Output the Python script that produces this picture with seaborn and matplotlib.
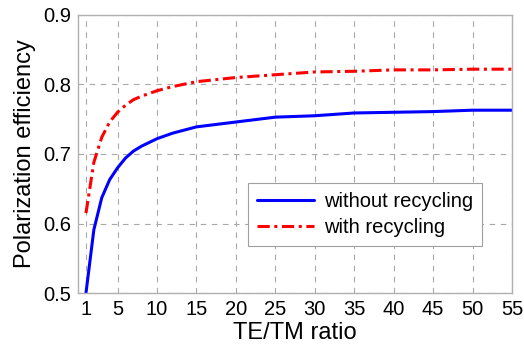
import numpy as np
import pandas as pd
import matplotlib
matplotlib.use("Agg")
import matplotlib.pyplot as plt
import seaborn as sns

# values
ratio = [1, 2, 3, 4, 5, 6, 7, 8, 10, 12, 15, 20, 25, 30, 35, 40, 45, 50, 55]
without_recycling = [0.500, 0.591, 0.637, 0.663, 0.680, 0.694, 0.704, 0.711, 0.722,
                     0.730, 0.739, 0.746, 0.753, 0.755, 0.759, 0.760, 0.761, 0.763, 0.763]
with_recycling = [0.615, 0.688, 0.724, 0.746, 0.760, 0.770, 0.778, 0.783, 0.791,
                  0.797, 0.804, 0.810, 0.814, 0.818, 0.819, 0.821, 0.821, 0.822, 0.822]
series_names = ["without recycling", "with recycling"]
x_ticks = [1, 5, 10, 15, 20, 25, 30, 35, 40, 45, 50, 55]
y_ticks = [0.5, 0.6, 0.7, 0.8, 0.9]

df = pd.DataFrame({
    "ratio": ratio * 2,
    "eff": without_recycling + with_recycling,
    "series": [series_names[0]] * len(ratio) + [series_names[1]] * len(ratio),
})

sns.set_style("white")
plt.rcParams['font.family'] = ['Liberation Sans', 'DejaVu Sans']
plt.rcParams['text.color'] = 'black'
plt.rcParams['axes.labelcolor'] = 'black'
plt.rcParams['xtick.color'] = 'black'
plt.rcParams['ytick.color'] = 'black'

fig, ax = plt.subplots(figsize=(5.24, 3.48), dpi=100)
fig.subplots_adjust(left=0.149, right=0.977, top=0.957, bottom=0.158)

sns.lineplot(data=df, x="ratio", y="eff", hue="series", style="series",
             palette={series_names[0]: "#0000ff", series_names[1]: "#ff0000"},
             dashes={series_names[0]: "", series_names[1]: (4, 1.5, 1, 1.5)},
             linewidth=2.2, ax=ax)

ax.set_xlim(0, 55)
ax.set_ylim(0.5, 0.9)
ax.set_xticks(x_ticks)
ax.set_yticks(y_ticks)
ax.set_yticklabels([f"{v:.1f}" for v in y_ticks])
ax.tick_params(labelsize=14.5, length=0, pad=5)
ax.grid(True, color="#a8a8a8", linestyle=(0, (5, 5)), linewidth=0.8)
for s in ax.spines.values():
    s.set_color("#b0b0b0")
    s.set_linewidth(1.0)

ax.set_xlabel("TE/TM ratio", fontsize=17, labelpad=2)
ax.set_ylabel("Polarization efficiency", fontsize=17, labelpad=5)

leg = ax.legend(loc="lower right", bbox_to_anchor=(0.931, 0.169), borderaxespad=0,
                fontsize=14.5, handlelength=2.8, fancybox=False, framealpha=1,
                edgecolor="#a0a0a0", borderpad=0.45, labelspacing=0.35,
                handletextpad=0.5)
leg.get_frame().set_linewidth(0.8)

fig.savefig("out.png", dpi=100)
